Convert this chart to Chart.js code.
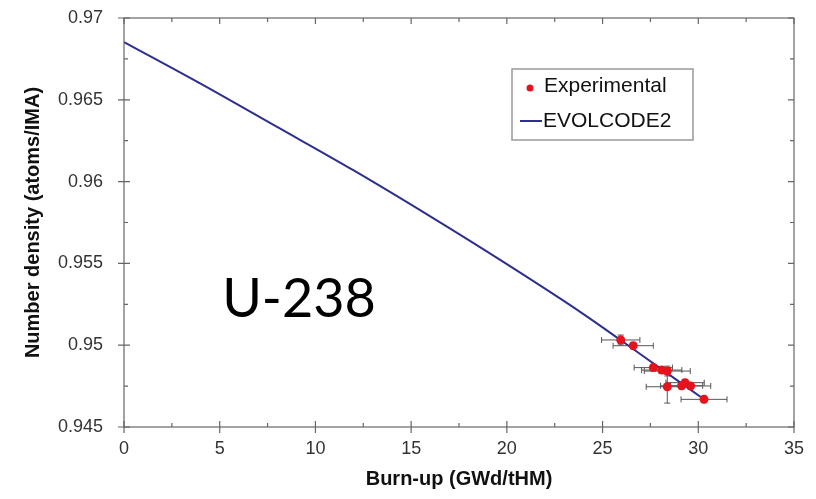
<!DOCTYPE html>
<html>
<head>
<meta charset="utf-8">
<script src="https://cdn.jsdelivr.net/npm/chart.js@4"></script>
<style>
  html, body { margin: 0; padding: 0; background: #fff; }
  #wrap { width: 816px; height: 499px; }
</style>
</head>
<body>
<div id="wrap"><canvas id="chart" width="816" height="499"></canvas></div>
<script>
// EVOLCODE2 curve
var calcBurnup = [0, 4, 8, 12, 16, 20, 24, 27, 30.35];
var calcDensity = [0.96853, 0.96599, 0.96334, 0.96068, 0.95787, 0.95495, 0.95190, 0.94943, 0.94665];

// experimental points with error bars
var expBurnup = [25.95, 26.60, 27.65, 28.09, 28.38, 28.38, 29.13, 29.31, 29.60, 30.30];
var expDensity = [0.95032, 0.94997, 0.94863, 0.94848, 0.94842, 0.94746, 0.94752, 0.94771, 0.94751, 0.94669];
var expXErr = [1.0, 1.05, 1.0, 1.05, 1.2, 1.1, 1.1, 1.0, 1.05, 1.2];
var expYErr = [0.0003, 0.0002, 0.0002, 0.0002, 0.0003, 0.001, 0.0002, 0.0002, 0.0002, 0.0002];

var xTicks = [0, 5, 10, 15, 20, 25, 30, 35];
var yTicks = [0.945, 0.95, 0.955, 0.96, 0.965, 0.97];

var axisColor = '#666';
var tickFont = { family: 'Liberation Sans, Arial, sans-serif', size: 18 };
var titleFont = { family: 'Liberation Sans, Arial, sans-serif', size: 20, weight: 'bold' };

function isMajor(v, list) {
  return list.some(function (t) { return Math.abs(t - v) < 1e-9; });
}

var frameTicks = {
  id: 'frameTicks',
  afterDraw: function (chart) {
    var ctx = chart.ctx, a = chart.chartArea;
    var xs = chart.scales.x, ys = chart.scales.y;
    ctx.save();
    ctx.strokeStyle = axisColor;
    ctx.lineWidth = 1.2;
    ctx.strokeRect(a.left, a.top, a.right - a.left, a.bottom - a.top);
    ctx.beginPath();
    xs.ticks.forEach(function (t) {
      var px = xs.getPixelForValue(t.value);
      var big = isMajor(t.value, xTicks);
      var len = big ? 6 : 4;
      ctx.moveTo(px, a.bottom - len); ctx.lineTo(px, a.bottom + (big ? 6 : 0));
      ctx.moveTo(px, a.top); ctx.lineTo(px, a.top + len);
    });
    ys.ticks.forEach(function (t) {
      var py = ys.getPixelForValue(t.value);
      var big = isMajor(t.value, yTicks);
      var len = big ? 6 : 4;
      ctx.moveTo(a.left - (big ? 6 : 0), py); ctx.lineTo(a.left + len, py);
      ctx.moveTo(a.right - len, py); ctx.lineTo(a.right, py);
    });
    ctx.stroke();

    // legend box
    var lx = a.left + 388, ly = a.top + 51, lw = 181, lh = 71;
    ctx.fillStyle = '#fff';
    ctx.fillRect(lx, ly, lw, lh);
    ctx.strokeStyle = '#999';
    ctx.lineWidth = 1.5;
    ctx.strokeRect(lx, ly, lw, lh);
    var dsExp = chart.data.datasets[1], dsCalc = chart.data.datasets[0];
    ctx.font = '21px Liberation Sans, Arial, sans-serif';
    ctx.textBaseline = 'middle';
    ctx.textAlign = 'left';
    ctx.fillStyle = dsExp.backgroundColor;
    ctx.beginPath();
    ctx.arc(lx + 18, ly + 19, 3.5, 0, Math.PI * 2);
    ctx.fill();
    ctx.fillStyle = '#111';
    ctx.fillText(dsExp.label, lx + 32, ly + 17);
    ctx.strokeStyle = dsCalc.borderColor;
    ctx.lineWidth = 2;
    ctx.beginPath();
    ctx.moveTo(lx + 8, ly + 52); ctx.lineTo(lx + 30, ly + 52);
    ctx.stroke();
    ctx.fillText(dsCalc.label, lx + 31, ly + 52);

    // isotope label
    ctx.font = '54px Lato, "Open Sans", sans-serif';
    ctx.fillStyle = '#000';
    ctx.textAlign = 'center';
    ctx.textBaseline = 'alphabetic';
    ctx.fillText('U-238', a.left + 175, a.top + 299);
    ctx.restore();
  }
};

var errorBars = {
  id: 'errorBars',
  beforeDatasetsDraw: function (chart) {
    var ctx = chart.ctx, xs = chart.scales.x, ys = chart.scales.y;
    ctx.save();
    ctx.strokeStyle = '#555';
    ctx.lineWidth = 1;
    ctx.beginPath();
    for (var i = 0; i < expBurnup.length; i++) {
      var px = xs.getPixelForValue(expBurnup[i]);
      var py = ys.getPixelForValue(expDensity[i]);
      var x0 = xs.getPixelForValue(expBurnup[i] - expXErr[i]);
      var x1 = xs.getPixelForValue(expBurnup[i] + expXErr[i]);
      var y0 = ys.getPixelForValue(expDensity[i] - expYErr[i]);
      var y1 = ys.getPixelForValue(expDensity[i] + expYErr[i]);
      ctx.moveTo(x0, py); ctx.lineTo(x1, py);
      ctx.moveTo(x0, py - 3); ctx.lineTo(x0, py + 3);
      ctx.moveTo(x1, py - 3); ctx.lineTo(x1, py + 3);
      ctx.moveTo(px, y0); ctx.lineTo(px, y1);
      ctx.moveTo(px - 3, y0); ctx.lineTo(px + 3, y0);
      ctx.moveTo(px - 3, y1); ctx.lineTo(px + 3, y1);
    }
    ctx.stroke();
    ctx.restore();
  }
};

var calcPoints = calcBurnup.map(function (x, i) { return { x: x, y: calcDensity[i] }; });
var expPoints = expBurnup.map(function (x, i) { return { x: x, y: expDensity[i] }; });

new Chart(document.getElementById('chart'), {
  type: 'scatter',
  data: {
    datasets: [
      {
        label: 'EVOLCODE2',
        data: calcPoints,
        showLine: true,
        borderColor: '#2e2e8e',
        borderWidth: 2,
        pointRadius: 0,
        cubicInterpolationMode: 'monotone',
        order: 2
      },
      {
        label: 'Experimental',
        data: expPoints,
        backgroundColor: '#e8121c',
        borderWidth: 0,
        pointRadius: 4.5,
        order: 1
      }
    ]
  },
  options: {
    responsive: false,
    animation: false,
    layout: { padding: { top: 18, right: 22, left: 0, bottom: 0 } },
    plugins: {
      legend: { display: false },
      tooltip: { enabled: false }
    },
    scales: {
      x: {
        type: 'linear',
        min: 0, max: 35,
        afterFit: function (s) { s.height = 72; s.paddingLeft = 0; s.paddingRight = 0; },
        grid: { display: false, drawTicks: false },
        border: { display: false },
        ticks: {
          stepSize: 2.5, autoSkip: false, maxRotation: 0, padding: 11,
          color: '#333', font: tickFont,
          callback: function (v) { return isMajor(v, xTicks) ? String(v) : ''; }
        },
        title: {
          display: true, text: 'Burn-up (GWd/tHM)', color: '#111', font: titleFont,
          padding: { top: 0, bottom: 8 }
        }
      },
      y: {
        type: 'linear',
        min: 0.945, max: 0.97,
        afterFit: function (s) { s.width = 124; s.paddingTop = 0; s.paddingBottom = 0; },
        grid: { display: false, drawTicks: false },
        border: { display: false },
        ticks: {
          stepSize: 0.0025, autoSkip: false, padding: 21,
          color: '#333', font: tickFont,
          callback: function (v) { return isMajor(v, yTicks) ? String(+v.toFixed(3)) : ''; }
        },
        title: {
          display: true, text: 'Number density (atoms/IMA)', color: '#111', font: titleFont,
          padding: { top: 21, bottom: 0 }
        }
      }
    }
  },
  plugins: [errorBars, frameTicks]
});
</script>
</body>
</html>
